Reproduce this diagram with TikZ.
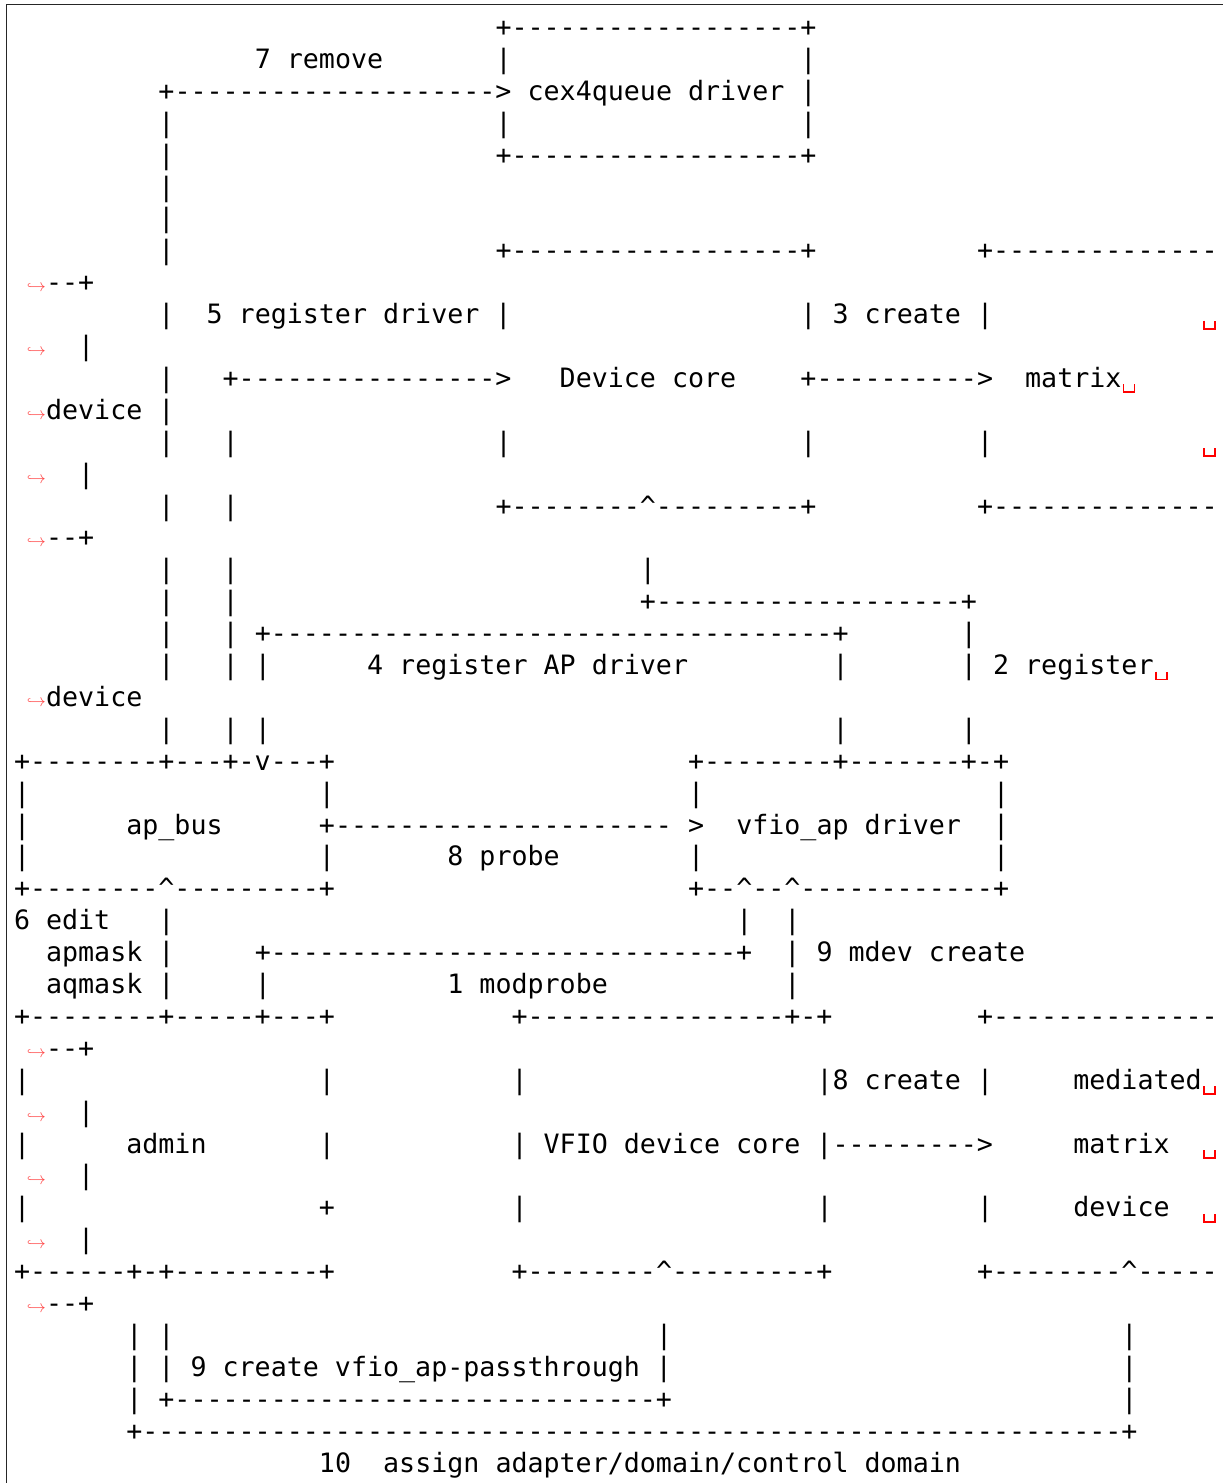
\documentclass[tikz,border=0pt]{standalone}
\usepackage{fontspec}
\setmonofont{DejaVu Sans Mono}
\ExplSyntaxOn
\cs_new:Npn \myDashes #1 {\prg_replicate:nn{#1}{-}}
\ExplSyntaxOff
\newcommand\D[1]{\myDashes{#1}}
\newcommand\C{\textasciicircum}
\newcommand\seg[3]{\node[txt] (n#1x#2) at ({14+16.05*#2},{36.5+31.9*#1}) {#3};}
\newcommand\cont[1]{\node[contmark] (c#1) at (46,{36.5+31.9*#1}) {$\hookrightarrow$};}
\newcommand\vsp[2]{\draw[vsp] ({14+16.05*#2+2},{36.5+31.9*#1-3}) -- ++(0,8) -- ++(11,0) -- ++(0,-8);}
\begin{document}
\begin{tikzpicture}[x=1pt,y=-1pt,
  txt/.style={anchor=base west,inner sep=0pt,outer sep=0pt,font=\ttfamily\fontsize{26.66}{31.9}\selectfont},
  contmark/.style={anchor=base east,inner sep=0pt,outer sep=0pt,text=red!75,font=\fontsize{16}{16}\selectfont},
  vsp/.style={draw=red,line width=1.9pt},
  frame/.style={draw=black!85,line width=1.3pt}]
\useasboundingbox (0,0) rectangle (1223,1483);
\draw[frame] (6.5,1483) -- (6.5,4.5) -- (1223,4.5);
% row 0-7
\seg{0}{30}{+\D{18}+}
\seg{1}{15}{7 remove}\seg{1}{30}{|}\seg{1}{49}{|}
\seg{2}{9}{+\D{20}>}\seg{2}{32}{cex4queue driver |}
\seg{3}{9}{|}\seg{3}{30}{|}\seg{3}{49}{|}
\seg{4}{9}{|}\seg{4}{30}{+\D{18}+}
\seg{5}{9}{|}
\seg{6}{9}{|}
\seg{7}{9}{|}\seg{7}{30}{+\D{18}+}\seg{7}{60}{+\D{14}}
\cont{8}\seg{8}{2}{\D{2}+}
\seg{9}{9}{|}\seg{9}{12}{5 register driver |}\seg{9}{49}{| 3 create |}\vsp{9}{74}
\cont{10}\seg{10}{4}{|}
\seg{11}{9}{|}\seg{11}{13}{+\D{16}>}\seg{11}{34}{Device core}\seg{11}{49}{+\D{10}>}\seg{11}{63}{matrix}\vsp{11}{69}
\cont{12}\seg{12}{2}{device |}
\seg{13}{9}{|}\seg{13}{13}{|}\seg{13}{30}{|}\seg{13}{49}{|}\seg{13}{60}{|}\vsp{13}{74}
\cont{14}\seg{14}{4}{|}
\seg{15}{9}{|}\seg{15}{13}{|}\seg{15}{30}{+\D{8}\C\D{9}+}\seg{15}{60}{+\D{14}}
\cont{16}\seg{16}{2}{\D{2}+}
\seg{17}{9}{|}\seg{17}{13}{|}\seg{17}{39}{|}
\seg{18}{9}{|}\seg{18}{13}{|}\seg{18}{39}{+\D{19}+}
\seg{19}{9}{|}\seg{19}{13}{|}\seg{19}{15}{+\D{35}+}\seg{19}{59}{|}
\seg{20}{9}{|}\seg{20}{13}{|}\seg{20}{15}{|}\seg{20}{22}{4 register AP driver}\seg{20}{51}{|}\seg{20}{59}{| 2 register}\vsp{20}{71}
\cont{21}\seg{21}{2}{device}
\seg{22}{9}{|}\seg{22}{13}{|}\seg{22}{15}{|}\seg{22}{51}{|}\seg{22}{59}{|}
\seg{23}{0}{+\D{8}+\D{3}+-v\D{3}+}\seg{23}{42}{+\D{8}+\D{7}+-+}
\seg{24}{0}{|}\seg{24}{19}{|}\seg{24}{42}{|}\seg{24}{61}{|}
\seg{25}{0}{|}\seg{25}{7}{ap\_bus}\seg{25}{19}{+\D{21} >}\seg{25}{45}{vfio\_ap driver}\seg{25}{61}{|}
\seg{26}{0}{|}\seg{26}{19}{|}\seg{26}{27}{8 probe}\seg{26}{42}{|}\seg{26}{61}{|}
\seg{27}{0}{+\D{8}\C\D{9}+}\seg{27}{42}{+\D{2}\C\D{2}\C\D{12}+}
\seg{28}{0}{6 edit}\seg{28}{9}{|}\seg{28}{45}{|}\seg{28}{48}{|}
\seg{29}{2}{apmask |}\seg{29}{15}{+\D{29}+}\seg{29}{48}{| 9 mdev create}
\seg{30}{2}{aqmask |}\seg{30}{15}{|}\seg{30}{27}{1 modprobe}\seg{30}{48}{|}
\seg{31}{0}{+\D{8}+\D{5}+\D{3}+}\seg{31}{31}{+\D{16}+-+}\seg{31}{60}{+\D{14}}
\cont{32}\seg{32}{2}{\D{2}+}
\seg{33}{0}{|}\seg{33}{19}{|}\seg{33}{31}{|}\seg{33}{50}{|8 create |}\seg{33}{66}{mediated}\vsp{33}{74}
\cont{34}\seg{34}{4}{|}
\seg{35}{0}{|}\seg{35}{7}{admin}\seg{35}{19}{|}\seg{35}{31}{| VFIO device core |\D{9}>}\seg{35}{66}{matrix}\vsp{35}{74}
\cont{36}\seg{36}{4}{|}
\seg{37}{0}{|}\seg{37}{19}{+}\seg{37}{31}{|}\seg{37}{50}{|}\seg{37}{60}{|}\seg{37}{66}{device}\vsp{37}{74}
\cont{38}\seg{38}{4}{|}
\seg{39}{0}{+\D{6}+-+\D{9}+}\seg{39}{31}{+\D{8}\C\D{9}+}\seg{39}{60}{+\D{8}\C\D{5}}
\cont{40}\seg{40}{2}{\D{2}+}
\seg{41}{7}{| |}\seg{41}{40}{|}\seg{41}{69}{|}
\seg{42}{7}{| | 9 create vfio\_ap-passthrough |}\seg{42}{69}{|}
\seg{43}{7}{| +\D{30}+}\seg{43}{69}{|}
\seg{44}{7}{+\D{61}+}
\seg{45}{19}{10}\seg{45}{23}{assign adapter/domain/control domain}
\end{tikzpicture}
\end{document}
